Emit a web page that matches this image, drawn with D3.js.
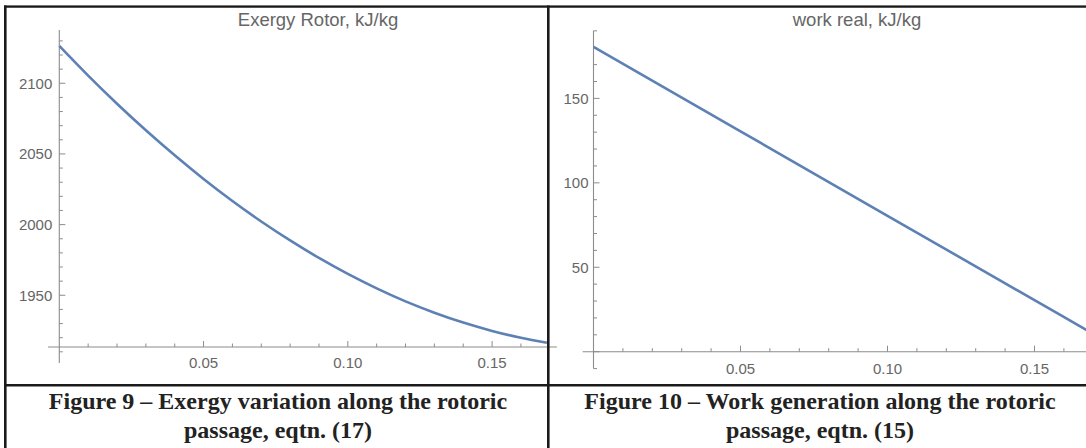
<!DOCTYPE html>
<html>
<head>
<meta charset="utf-8">
<script src="https://cdn.jsdelivr.net/npm/d3@7"></script>
<style>
  html, body { margin: 0; padding: 0; background: #fff; }
  svg { display: block; }
</style>
</head>
<body>
<svg id="fig" width="1086" height="448"></svg>
<script>
// Position along the rotoric passage
const positions = [0, 0.01, 0.02, 0.03, 0.04, 0.05, 0.06, 0.07, 0.08, 0.09,
                   0.10, 0.11, 0.12, 0.13, 0.14, 0.15, 0.16, 0.169];
// Exergy in the rotor, kJ/kg (eqtn. 17)
const exergyRotor = [2126.4, 2105.4, 2085.5, 2066.7, 2049.0, 2032.3, 2016.7, 2002.2, 1988.8,
                     1976.4, 1965.1, 1954.9, 1945.7, 1937.7, 1930.7, 1924.8, 1919.9, 1916.4];
// Real work, kJ/kg (eqtn. 15)
const workPositions = [0, 0.05, 0.10, 0.15, 0.169];
const workReal = [180.5, 130.5, 80.5, 30.5, 11.5];

const exergyTicks = [1950, 2000, 2050, 2100];
const workTicks = [50, 100, 150];
const xTicks = [0.05, 0.10, 0.15];

const titles = ["Exergy Rotor, kJ/kg", "work real, kJ/kg"];
const captions = [
  ["Figure 9 \u2013 Exergy variation along the rotoric", "passage, eqtn. (17)"],
  ["Figure 10 \u2013 Work generation along the rotoric", "passage, eqtn. (15)"]
];

const svg = d3.select("#fig");
const LINE = "#5e81b5";
const AXIS = "#8c8c8c";
const LABEL = "#666666";
const fmtX = d3.format(".2f");

function drawPlot(cfg) {
  const g = svg.append("g");
  const x = d3.scaleLinear().domain([0, 0.169]).range(cfg.xRange);
  const y = d3.scaleLinear().domain(cfg.yDomain).range(cfg.yRange);
  const x0 = x(0), y0 = y(cfg.yDomain[0]);

  // plot label
  g.append("text")
    .attr("x", cfg.titleX).attr("y", 25.5)
    .attr("text-anchor", "middle")
    .attr("font-family", "Liberation Sans, Arial, sans-serif")
    .attr("font-size", 18.5)
    .attr("fill", LABEL)
    .text(cfg.title);

  // axis lines
  g.append("line")
    .attr("x1", x(cfg.xAxisFrom)).attr("x2", cfg.xRange[1] + 10)
    .attr("y1", y0).attr("y2", y0)
    .attr("stroke", AXIS).attr("stroke-width", 1.1);
  g.append("line")
    .attr("x1", x0).attr("x2", x0)
    .attr("y1", y(cfg.yAxisFrom)).attr("y2", y(cfg.yAxisTo))
    .attr("stroke", AXIS).attr("stroke-width", 1.1);

  // x ticks: minor every 0.01, major every 0.05
  const xMinor = d3.range(1, 17).map(i => i / 100);
  g.selectAll(null).data(xMinor).join("line")
    .attr("x1", d => x(d)).attr("x2", d => x(d))
    .attr("y1", y0).attr("y2", d => y0 - (Math.round(d * 100) % 5 === 0 ? 6 : 3.5))
    .attr("stroke", AXIS).attr("stroke-width", 1);
  g.selectAll(null).data(xTicks).join("text")
    .attr("x", d => x(d)).attr("y", y0 + cfg.xLabelOffset)
    .attr("text-anchor", "middle")
    .attr("font-family", "Liberation Sans, Arial, sans-serif")
    .attr("font-size", 15)
    .attr("fill", LABEL)
    .text(d => fmtX(d));

  // y ticks: minor every 10, major every 50
  const yMinor = d3.range(Math.ceil(cfg.yAxisFrom / 10) * 10, cfg.yAxisTo + 0.01, 10);
  g.selectAll(null).data(yMinor).join("line")
    .attr("x1", x0).attr("x2", d => x0 + (d % 50 === 0 ? 6 : 3.5))
    .attr("y1", d => y(d)).attr("y2", d => y(d))
    .attr("stroke", AXIS).attr("stroke-width", 1);
  g.selectAll(null).data(cfg.yTicks).join("text")
    .attr("x", x0 - cfg.yLabelGap).attr("y", d => y(d))
    .attr("dy", "0.35em")
    .attr("text-anchor", "end")
    .attr("font-family", "Liberation Sans, Arial, sans-serif")
    .attr("font-size", 15)
    .attr("fill", LABEL)
    .text(d => d);

  // curve
  const line = d3.line()
    .x(d => x(d[0])).y(d => y(d[1]))
    .curve(d3.curveMonotoneX);
  g.append("path")
    .datum(cfg.xs.map((v, i) => [v, cfg.ys[i]]))
    .attr("d", line)
    .attr("fill", "none")
    .attr("stroke", LINE)
    .attr("stroke-width", 2.6)
    .attr("stroke-linecap", "butt");
}

// Figure 9
drawPlot({
  title: titles[0], titleX: 318,
  xRange: [59.3, 546.9],
  yDomain: [1913.4, 2137.7], yRange: [347, 30],
  xAxisFrom: -0.0039, yAxisFrom: 1902, yAxisTo: 2137.7,
  yTicks: exergyTicks, yLabelGap: 7, xLabelOffset: 21,
  xs: positions, ys: exergyRotor
});

// Figure 10
drawPlot({
  title: titles[1], titleX: 857,
  xRange: [593.5, 593.5 + 0.169 * 2940],
  yDomain: [0, 190.5], yRange: [351.7, 30],
  xAxisFrom: -0.0037, yAxisFrom: -10, yAxisTo: 190,
  yTicks: workTicks, yLabelGap: 5, xLabelOffset: 22,
  xs: workPositions, ys: workReal
});

// white-out the area under the table rule, then the table frame
svg.append("rect").attr("x", 0).attr("y", 384).attr("width", 1086).attr("height", 64).attr("fill", "#fff");
const frame = svg.append("g").attr("stroke", "#1a1a1a").attr("stroke-width", 2.6);
frame.append("line").attr("x1", 0).attr("x2", 1086).attr("y1", 6.5).attr("y2", 6.5);
frame.append("line").attr("x1", 5.3).attr("x2", 5.3).attr("y1", 5).attr("y2", 448);
frame.append("line").attr("x1", 548.3).attr("x2", 548.3).attr("y1", 5).attr("y2", 448);
frame.append("line").attr("x1", 4).attr("x2", 1086).attr("y1", 385.3).attr("y2", 385.3);
// clear the left margin outside the table
svg.append("rect").attr("x", 0).attr("y", 0).attr("width", 4).attr("height", 448).attr("fill", "#fff");
svg.append("rect").attr("x", 0).attr("y", 0).attr("width", 1086).attr("height", 5.2).attr("fill", "#fff");

// captions
const capCenters = [278, 820];
captions.forEach((lines, i) => {
  lines.forEach((t, j) => {
    svg.append("text")
      .attr("x", capCenters[i]).attr("y", 409 + j * 29)
      .attr("text-anchor", "middle")
      .attr("font-family", "Liberation Serif, Times New Roman, serif")
      .attr("font-weight", "bold")
      .attr("font-size", 24)
      .attr("fill", "#222")
      .text(t);
  });
});
</script>
</body>
</html>
